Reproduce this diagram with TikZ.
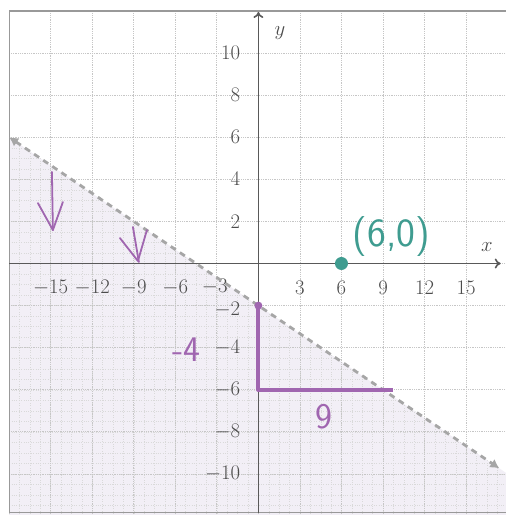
\documentclass[tikz,border=0pt]{standalone}
\usepackage{xcolor}
\usepackage{tikz}
\usetikzlibrary{arrows.meta, positioning, calc}
\definecolor{penpurple}{HTML}{A066B0}
\definecolor{penteal}{HTML}{3F9C90}
\definecolor{halfplane}{HTML}{F2EFF6}

\begin{document}
\begin{tikzpicture}[
    x=13.85pt, y=21.05pt,
    every node/.style={font=\fontsize{20}{24}\selectfont},
    gridline/.style={draw=gray!45, densely dotted, line width=0.8pt},
    fineline/.style={draw=gray!30, dotted, line width=0.4pt},
    axisline/.style={draw=black!65, line width=1.6pt, -{To[length=6pt,width=10pt]}},
    boundary/.style={draw=gray!70, line width=2.8pt, dash pattern=on 6pt off 5pt,
                     {Latex[length=9pt,width=10pt]}-{Latex[length=9pt,width=10pt]}},
    ticklabel/.style={text=black!70, inner sep=0pt},
    ink/.style={draw=penpurple, line width=1.8pt, line cap=round, line join=round},
    hand/.style={font=\sffamily\fontsize{36}{40}\selectfont}
]
\useasboundingbox (-18.66,-11.95) rectangle (17.87,12.52);
% shaded half-plane below the boundary
\fill[halfplane] (-18,6) -- (18,-10) -- (18,-12) -- (-18,-12) -- cycle;
\begin{scope}
  \clip (-18,6) -- (18,-10) -- (18,-12) -- (-18,-12) -- cycle;
  \draw[fineline, xstep=0.75, ystep=0.5] (-18,-12) grid (18,12);
\end{scope}
\draw[gridline, xstep=3, ystep=2] (-18,-12) grid (18,12);
\draw[gray!80, line width=1.2pt] (-18,-11.85) rectangle (18.3,12);

% axes
\draw[axisline] (-18,0) -- (17.5,0);
\draw[axisline] (0,-11.85) -- (0,11.95);
\node[text=black!70] (xlabel) at (16.5,0.8) {$x$};
\node[text=black!70] (ylabel) at (1.55,10.95) {$y$};
\foreach \v in {-15,-12,-9,-6,3,6,9,12,15}
  \node[ticklabel] (xt\v) at (\v,-1.15) {$\v$};
\node[ticklabel] (xt-3) at (-3.15,-1.1) {$-3$};
\foreach \v in {-10,-8,-6,-4,2,4,6,8,10}
  \node[ticklabel, anchor=east] (yt\v) at (-1.3,\v) {$\v$};
\node[ticklabel, anchor=east] (yt-2) at (-1.3,-2.2) {$-2$};

% dashed boundary
\coordinate (bstart) at (-18,6);
\coordinate (bend) at (17.4,-9.733);
\draw[boundary] (bstart) -- (bend);

% handwritten notes
\node[circle, fill=penteal, minimum size=13pt, inner sep=0pt] (xint) at (6,0) {};
\node[hand, text=penteal, font=\sffamily\fontsize{40}{44}\selectfont] (xintlabel) at (9.6,1.3) {(6,0)};
\node[circle, fill=penpurple, minimum size=8pt, inner sep=0pt] (yint) at (0,-2) {};
\coordinate (corner) at (0,-6);
\coordinate (runend) at (9.7,-6);
\draw[ink, line width=4pt, line cap=butt] (yint.center) -- (corner) -- (runend);
\node[hand, text=penpurple] (rise) at (-5.2,-4.1) {-4};
\node[hand, text=penpurple] (run) at (4.74,-7.3) {9};
\draw[ink] (-14.91,4.35) -- (-14.84,1.59);
\draw[ink] (-15.92,2.87) -- (-14.84,1.59) -- (-14.12,2.92);
\draw[ink] (-9.06,1.73) -- (-8.63,0.07);
\draw[ink] (-10.0,1.21) -- (-8.70,0.12) -- (-8.05,1.59);
\end{tikzpicture}
\end{document}
